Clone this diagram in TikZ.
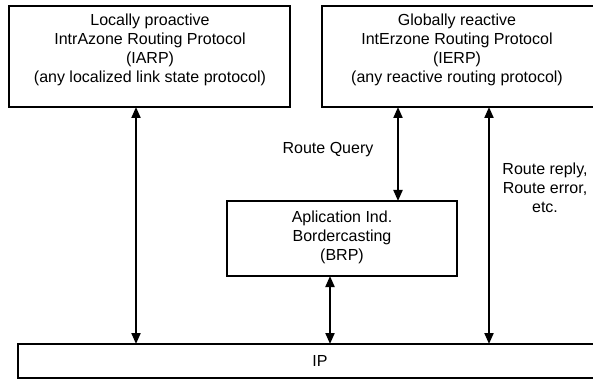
\documentclass[tikz,border=0pt]{standalone}
\usepackage{fontspec}
\setmainfont{Liberation Sans}
\usetikzlibrary{arrows.meta}
\begin{document}
\begin{tikzpicture}[x=1pt,y=-1pt,
  layer/.style={draw=black,line width=1.1pt,fill=white},
  txt/.style={align=center,font=\fontsize{16}{19}\selectfont,inner sep=0pt},
  link/.style={line width=2pt,{Triangle[width=9pt,length=11pt]}-{Triangle[width=9pt,length=11pt]}}]
  \useasboundingbox (0,0) rectangle (593,379);
  \clip (0,0) rectangle (593,379);

  % protocol boxes
  \draw[layer] (9,6) rectangle (290,107);
  \coordinate (iarpB) at (136,107);
  \node[txt] (iarp) at (150,50) {Locally proactive\\IntrAzone Routing Protocol\\(IARP)\\(any localized link state protocol)};

  \draw[layer] (322,6) rectangle (600,107);
  \coordinate (ierpQ) at (398,107);
  \coordinate (ierpR) at (489,107);
  \node[txt] (ierp) at (457,50) {Globally reactive\\IntErzone Routing Protocol\\(IERP)\\(any reactive routing protocol)};

  \draw[layer] (227,201) rectangle (457,276);
  \coordinate (brpT) at (398,201);
  \coordinate (brpB) at (330,276);
  \node[txt] (brp) at (342,237) {Aplication Ind.\\Bordercasting\\(BRP)};

  \draw[layer] (18,344) rectangle (625,378);
  \coordinate (ipL) at (136,344);
  \coordinate (ipM) at (330,344);
  \coordinate (ipR) at (489,344);
  \node[txt] (ip) at (320,361) {IP};

  % connectors
  \draw[link] (iarpB) -- (ipL);
  \draw[link] (ierpQ) -- (brpT);
  \draw[link] (ierpR) -- (ipR);
  \draw[link] (brpB) -- (ipM);

  % labels
  \node[txt] (rq) at (328,150) {Route Query};
  \node[txt] (rr) at (545,188) {Route reply,\\Route error,\\etc.};
\end{tikzpicture}
\end{document}
